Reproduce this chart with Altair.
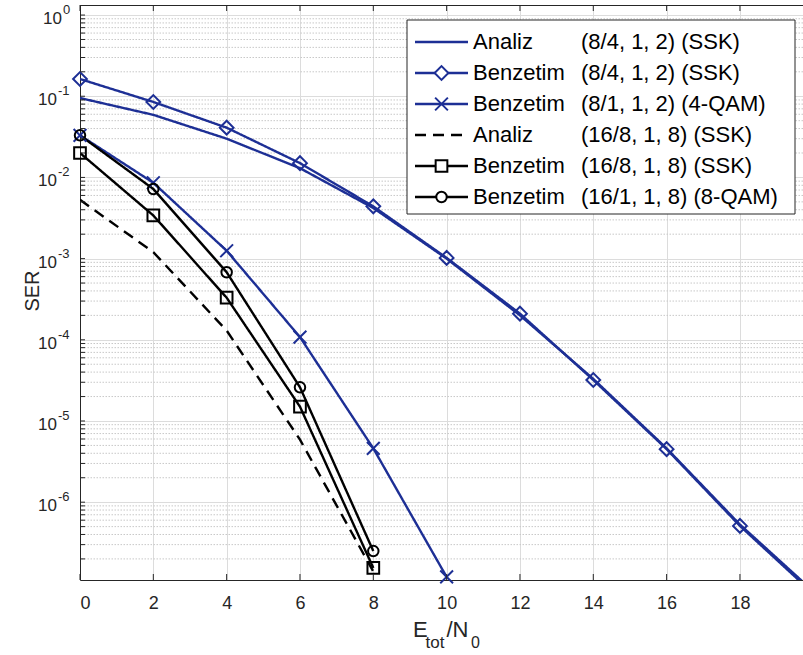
import altair as alt
import pandas as pd

# ---------------- data (SER vs Etot/N0 in dB) ----------------
snr_ssk8 = [0, 2, 4, 6, 8, 10, 12, 14, 16, 18, 20]
ser_analiz_ssk8 = [0.095, 0.059, 0.030, 0.013, 0.0042, 1.0e-3, 2.0e-4, 3.3e-5, 4.6e-6, 5.3e-7, 8.0e-8]
ser_benzetim_ssk8 = [0.163, 0.085, 0.041, 0.015, 0.0044, 1.02e-3, 2.1e-4, 3.2e-5, 4.5e-6, 5.1e-7, 7.5e-8]

snr_qam4 = [0, 2, 4, 6, 8, 10]
ser_benzetim_qam4 = [0.033, 0.0086, 1.25e-3, 1.08e-4, 4.6e-6, 1.2e-7]

snr_16 = [0, 2, 4, 6, 8]
ser_analiz_ssk16 = [5.3e-3, 1.2e-3, 1.3e-4, 5.9e-6, 1.4e-7]
ser_benzetim_ssk16 = [0.020, 3.4e-3, 3.3e-4, 1.5e-5, 1.55e-7]
ser_benzetim_qam8 = [0.033, 7.2e-3, 6.8e-4, 2.6e-5, 2.5e-7]

legend_names = ["Analiz", "Benzetim", "Benzetim", "Analiz", "Benzetim", "Benzetim"]
legend_params = ["(8/4, 1, 2) (SSK)", "(8/4, 1, 2) (SSK)", "(8/1, 1, 2) (4-QAM)",
                 "(16/8, 1, 8) (SSK)", "(16/8, 1, 8) (SSK)", "(16/1, 1, 8) (8-QAM)"]

x_ticks = [0, 2, 4, 6, 8, 10, 12, 14, 16, 18]
y_exponents = [0, -1, -2, -3, -4, -5, -6]

# ---------------- styling ----------------
BLUE = "#1d2f95"
INK = "#262626"
FONT = "Liberation Sans"
W, H = 723, 575
X_MAX = 19.72
Y_MIN, Y_MAX = 1.10e-7, 1.33

keys = [f"{n} {p}" for n, p in zip(legend_names, legend_params)]
colors = [BLUE, BLUE, BLUE, "#000000", "#000000", "#000000"]
dashes = [[1, 0], [1, 0], [1, 0], [11, 7], [1, 0], [1, 0]]
X_SHAPE = "M-1,-1L1,1M-1,1L1,-1"
marker_keys = [keys[1], keys[2], keys[4], keys[5]]
marker_shapes = ["diamond", X_SHAPE, "square", "circle"]
marker_sizes = [190, 110, 175, 190]

series_x = [snr_ssk8, snr_ssk8, snr_qam4, snr_16, snr_16, snr_16]
series_y = [ser_analiz_ssk8, ser_benzetim_ssk8, ser_benzetim_qam4,
            ser_analiz_ssk16, ser_benzetim_ssk16, ser_benzetim_qam8]

rows = []
for k, xs_, ys_ in zip(keys, series_x, series_y):
    for a, b in zip(xs_, ys_):
        rows.append({"key": k, "snr": a, "ser": b})
df = pd.DataFrame(rows)
# markers are only drawn inside the visible x range
df_markers = df[df["key"].isin(marker_keys) & (df["snr"] <= X_MAX)]

legend_df = pd.DataFrame({
    "key": keys, "name": legend_names, "params": legend_params, "row": list(range(len(keys)))
})

decades = [10.0 ** e for e in y_exponents]
decade_df = pd.DataFrame({"v": decades, "exp": [str(e) for e in y_exponents]})
minor_vals = [m * 10.0 ** k for k in range(-7, 0) for m in range(2, 10)]
minor_vals = [v for v in minor_vals if Y_MIN < v < Y_MAX]
minor_df = pd.DataFrame({"v": minor_vals})
all_ticks_df = pd.DataFrame({"v": minor_vals + [d for d in decades if d < Y_MAX]})
xtick_df = pd.DataFrame({"t": x_ticks})
one = pd.DataFrame({"k": [0]})

xs = alt.Scale(domain=[0, X_MAX], nice=False, zero=False)
ys = alt.Scale(type="log", domain=[Y_MIN, Y_MAX], nice=False)
color_scale = alt.Scale(domain=keys, range=colors)
dash_scale = alt.Scale(domain=keys, range=dashes)
shape_scale = alt.Scale(domain=marker_keys, range=marker_shapes)
size_scale = alt.Scale(domain=marker_keys, range=marker_sizes)

x_axis = alt.Axis(values=x_ticks, grid=True, gridColor="#dcdcdc", gridWidth=1,
                  ticks=False, domainColor=INK, domainWidth=1, labelFont=FONT,
                  labelFontSize=18, labelColor=INK, labelPadding=14, title=None)
y_axis = alt.Axis(values=decades, grid=True, gridColor="#dcdcdc", gridWidth=1,
                  ticks=False, labels=False, domainColor=INK, domainWidth=1, title=None)

# minor log grid (dotted)
minor_grid = alt.Chart(minor_df).mark_rule(color="#c8c8c8", strokeWidth=1, strokeDash=[1.5, 1.5]).encode(
    y=alt.Y("v:Q", scale=ys, axis=y_axis)
)

curves = alt.Chart(df).mark_line(clip=True, strokeWidth=2.4).encode(
    x=alt.X("snr:Q", scale=xs, axis=x_axis),
    y=alt.Y("ser:Q", scale=ys, axis=y_axis),
    color=alt.Color("key:N", scale=color_scale, legend=None),
    strokeDash=alt.StrokeDash("key:N", scale=dash_scale, legend=None),
    order="snr:Q",
)

markers = alt.Chart(df_markers).mark_point(filled=False, strokeWidth=2, opacity=1).encode(
    x=alt.X("snr:Q", scale=xs),
    y=alt.Y("ser:Q", scale=ys),
    color=alt.Color("key:N", scale=color_scale, legend=None),
    shape=alt.Shape("key:N", scale=shape_scale, legend=None),
    size=alt.Size("key:N", scale=size_scale, legend=None),
)

# inward ticks and top border
top_border = alt.Chart(one).mark_rule(color=INK, strokeWidth=1).encode(
    x=alt.value(0), x2=alt.value(W), y=alt.value(0.5)
)
y_ticks = alt.Chart(all_ticks_df).mark_rule(color=INK, strokeWidth=1).encode(
    y=alt.Y("v:Q", scale=ys), x=alt.value(0), x2=alt.value(5)
)
x_ticks_bottom = alt.Chart(xtick_df).mark_rule(color=INK, strokeWidth=1).encode(
    x=alt.X("t:Q", scale=xs), y=alt.value(H), y2=alt.value(H - 6)
)
x_ticks_top = alt.Chart(xtick_df).mark_rule(color=INK, strokeWidth=1).encode(
    x=alt.X("t:Q", scale=xs), y=alt.value(0), y2=alt.value(6)
)

# y tick labels: "10" with a raised exponent
neg = decade_df[decade_df["v"] < 1]
pos = decade_df[decade_df["v"] >= 1]
base_neg = alt.Chart(neg).mark_text(align="right", baseline="middle", fontSize=17, font=FONT,
                                    color=INK, dy=4).encode(
    x=alt.value(-23), y=alt.Y("v:Q", scale=ys), text=alt.value("10"))
exp_neg = alt.Chart(neg).mark_text(align="left", baseline="middle", fontSize=13, font=FONT,
                                   color=INK, dy=-5).encode(
    x=alt.value(-22), y=alt.Y("v:Q", scale=ys), text="exp:N")
base_pos = alt.Chart(pos).mark_text(align="right", baseline="middle", fontSize=17, font=FONT,
                                    color=INK, dy=4).encode(
    x=alt.value(-18), y=alt.Y("v:Q", scale=ys), text=alt.value("10"))
exp_pos = alt.Chart(pos).mark_text(align="left", baseline="middle", fontSize=13, font=FONT,
                                   color=INK, dy=-5).encode(
    x=alt.value(-17), y=alt.Y("v:Q", scale=ys), text="exp:N")

# axis titles
ser_title = alt.Chart(one).mark_text(angle=270, fontSize=20, font=FONT, color=INK,
                                     baseline="middle", align="center").encode(
    x=alt.value(-47), y=alt.value(286), text=alt.value("SER"))
xt_parts = [
    ("E", 333, 632, 22, "left"),
    ("tot", 355, 643, 17, "center"),
    ("/N", 366.5, 632, 22, "left"),
    ("0", 391, 643, 16, "left"),
]
x_title_layers = [
    alt.Chart(one).mark_text(fontSize=fs, font=FONT, color=INK, baseline="alphabetic", align=al).encode(
        x=alt.value(px), y=alt.value(py), text=alt.value(t))
    for t, px, py, fs, al in xt_parts
]

# legend
legend_box = alt.Chart(one).mark_rect(fill="white", stroke=INK, strokeWidth=1).encode(
    x=alt.value(327), x2=alt.value(715), y=alt.value(15), y2=alt.value(209)
)
leg_base = alt.Chart(legend_df).transform_calculate(ly="37 + 31 * datum.row")
leg_lines = leg_base.mark_rule(strokeWidth=2.4).encode(
    x=alt.value(335), x2=alt.value(388), y=alt.Y("ly:Q", scale=None),
    color=alt.Color("key:N", scale=color_scale, legend=None),
    strokeDash=alt.StrokeDash("key:N", scale=dash_scale, legend=None),
)
leg_marks = leg_base.transform_filter(
    alt.FieldOneOfPredicate(field="key", oneOf=marker_keys)
).mark_point(filled=False, strokeWidth=2, fill="white", opacity=1).encode(
    x=alt.value(361.5), y=alt.Y("ly:Q", scale=None),
    color=alt.Color("key:N", scale=color_scale, legend=None),
    shape=alt.Shape("key:N", scale=shape_scale, legend=None),
    size=alt.Size("key:N", scale=size_scale, legend=None),
)
leg_names = leg_base.mark_text(align="left", baseline="middle", fontSize=22, font=FONT,
                               color="#000000").encode(
    x=alt.value(393), y=alt.Y("ly:Q", scale=None), text="name:N")
leg_params = leg_base.mark_text(align="left", baseline="middle", fontSize=22, font=FONT,
                                color="#000000").encode(
    x=alt.value(501), y=alt.Y("ly:Q", scale=None), text="params:N")

chart = alt.layer(
    minor_grid, curves, markers, top_border, y_ticks, x_ticks_bottom, x_ticks_top,
    base_neg, exp_neg, base_pos, exp_pos, ser_title, *x_title_layers,
    legend_box, leg_lines, leg_marks, leg_names, leg_params,
).resolve_scale(
    color="shared"
).properties(
    width=W, height=H,
    autosize=alt.AutoSizeParams(type="none"),
    padding={"left": 80, "top": 5, "right": 0, "bottom": 75},
    background="white",
).configure_view(stroke=None)

chart.save("out.html", embed_options={"renderer": "svg", "actions": False})
